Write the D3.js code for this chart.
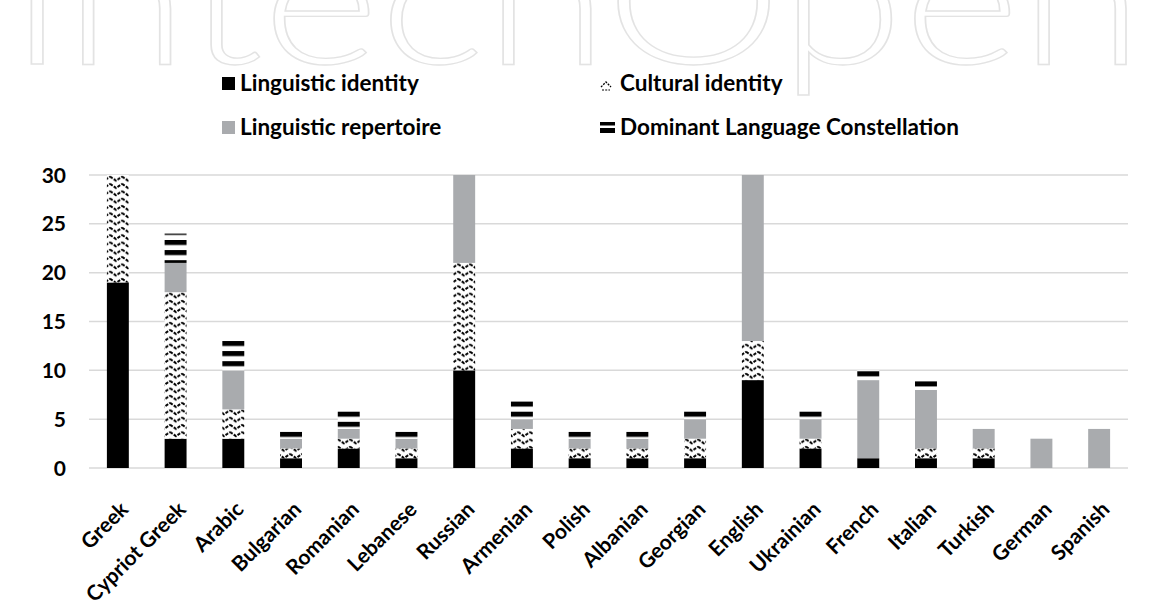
<!DOCTYPE html>
<html>
<head>
<meta charset="utf-8">
<script src="https://cdn.jsdelivr.net/npm/d3@7"></script>
<style>
  body { margin: 0; background: #fff; }
  svg text { font-family: Lato, "Open Sans", sans-serif; font-weight: bold; }
</style>
</head>
<body>
<svg id="chart" width="1159" height="603"></svg>
<script>
// languages on the x axis
var languages = ["Greek","Cypriot Greek","Arabic","Bulgarian","Romanian","Lebanese","Russian","Armenian","Polish",
                 "Albanian","Georgian","English","Ukrainian","French","Italian","Turkish","German","Spanish"];
// series values
var linguisticIdentity    = [19, 3, 3, 1, 2, 1, 10, 2, 1, 1, 1, 9, 2, 1, 1, 1, 0, 0];
var culturalIdentity      = [11, 15, 3, 1, 1, 1, 11, 2, 1, 1, 2, 4, 1, 0, 1, 1, 0, 0];
var linguisticRepertoire  = [0, 3, 4, 1, 1, 1, 9, 1, 1, 1, 2, 17, 2, 8, 6, 2, 3, 4];
var dominantConstellation = [0, 3, 3, 1, 2, 1, 0, 2, 1, 1, 1, 0, 1, 1, 1, 0, 0, 0];
var yTicks = [0, 5, 10, 15, 20, 25, 30];

var seriesKeys = ["li", "ci", "lr", "dlc"];
var seriesNames = {li: "Linguistic identity", ci: "Cultural identity", lr: "Linguistic repertoire", dlc: "Dominant Language Constellation"};

var rows = languages.map(function(l, i) {
    return {lang: l, li: linguisticIdentity[i], ci: culturalIdentity[i], lr: linguisticRepertoire[i], dlc: dominantConstellation[i]};
});

var svg = d3.select("#chart");
// plot area (note: "top" is reserved on window, so use plotTop)
var plotLeft = 89, plotRight = 1128, plotTop = 175, plotBottom = 468;

var x = d3.scaleBand().domain(languages).range([plotLeft, plotRight]).paddingInner(0.62).paddingOuter(0.31);
var y = d3.scaleLinear().domain([0, 30]).range([plotBottom, plotTop]);

/*watermark*/
svg.append("text")
    .attr("x", 8).attr("y", 64)
    .attr("font-size", 175)
    .style("font-weight", "300")
    .attr("fill", "none")
    .attr("stroke", "#e3e3e3")
    .attr("stroke-width", 1.3)
    .attr("textLength", 1135)
    .attr("lengthAdjust", "spacingAndGlyphs")
    .text("IntechOpen");

/*patterns - page aligned like the spreadsheet fills*/
var defs = svg.append("defs");
var zig = defs.append("pattern").attr("id", "zig")
    .attr("patternUnits", "userSpaceOnUse").attr("width", 12).attr("height", 7.3).attr("x", 2).attr("y", 175);
zig.append("rect").attr("width", 12).attr("height", 7.3).attr("fill", "#fff");
zig.append("path").attr("d", "M0,1.6 L6,5.6 L12,1.6")
    .attr("fill", "none").attr("stroke", "#000").attr("stroke-width", 2).attr("stroke-dasharray", "3.2,1.3");

var stripes = defs.append("pattern").attr("id", "stripes")
    .attr("patternUnits", "userSpaceOnUse").attr("width", 40).attr("height", 10.1).attr("y", 240);
stripes.append("rect").attr("width", 40).attr("height", 10.1).attr("fill", "#fff");
stripes.append("rect").attr("y", 0).attr("width", 40).attr("height", 5).attr("fill", "#000");

var fills = {li: "#000", ci: "url(#zig)", lr: "#a9abae", dlc: "url(#stripes)"};

/*grid*/
svg.append("g").selectAll("line")
    .data(yTicks)
    .enter().append("line")
        .attr("x1", plotLeft).attr("x2", plotRight)
        .attr("y1", function(d) { return y(d); }).attr("y2", function(d) { return y(d); })
        .attr("stroke", "#d9d9d9").attr("stroke-width", 1.5);

/*y axis labels*/
svg.append("g").selectAll("text")
    .data(yTicks)
    .enter().append("text")
        .attr("x", 66).attr("y", function(d) { return y(d); })
        .attr("dy", "0.36em")
        .attr("text-anchor", "end")
        .attr("font-size", 21)
        .attr("fill", "#000")
        .text(function(d) { return d; });

/*bars*/
var stacked = d3.stack().keys(seriesKeys)(rows);
svg.append("g").selectAll("g")
    .data(stacked)
    .enter().append("g")
        .attr("fill", function(d) { return fills[d.key]; })
    .selectAll("rect")
    .data(function(d) { return d; })
    .enter().append("rect")
        .attr("x", function(d) { return x(d.data.lang); })
        .attr("width", x.bandwidth())
        .attr("y", function(d) { return y(d[1]); })
        .attr("height", function(d) { return y(d[0]) - y(d[1]); });

/*x labels*/
svg.append("g").selectAll("text")
    .data(languages)
    .enter().append("text")
        .attr("transform", function(d) { return "translate(" + (x(d) + x.bandwidth() / 2 + 1) + "," + (plotBottom + 32) + ") rotate(-45)"; })
        .attr("text-anchor", "end")
        .attr("dy", "0.72em")
        .attr("font-size", 21)
        .attr("fill", "#000")
        .text(function(d) { return d; });

/*legend*/
var legendPos = {li: [222, 91], ci: [600, 91], lr: [222, 135], dlc: [600, 135]};
var legend = svg.append("g").selectAll("g")
    .data(seriesKeys)
    .enter().append("g")
        .attr("transform", function(d) { return "translate(" + legendPos[d][0] + "," + legendPos[d][1] + ")"; });

legend.each(function(d) {
    var g = d3.select(this);
    if (d == "li" || d == "lr") {
        g.append("rect").attr("x", 0).attr("y", -14).attr("width", 13).attr("height", 13).attr("fill", fills[d]);
    } else if (d == "ci") {
        g.append("path").attr("d", "M1,-4 L6,-9 L11,-4").attr("fill", "none")
            .attr("stroke", "#000").attr("stroke-width", 1.3).attr("stroke-dasharray", "2,1.2");
        g.append("path").attr("d", "M2,-1 L10,-1").attr("stroke", "#000").attr("stroke-width", 1.2).attr("stroke-dasharray", "2,1.2");
    } else {
        g.append("rect").attr("x", 0).attr("y", -13).attr("width", 15).attr("height", 3.5).attr("fill", "#000");
        g.append("rect").attr("x", 0).attr("y", -7).attr("width", 15).attr("height", 5).attr("fill", "#000");
    }
    g.append("text")
        .attr("x", d == "ci" || d == "dlc" ? 20 : 18)
        .attr("font-size", 22.5)
        .attr("fill", "#000")
        .text(seriesNames[d]);
});
</script>
</body>
</html>
